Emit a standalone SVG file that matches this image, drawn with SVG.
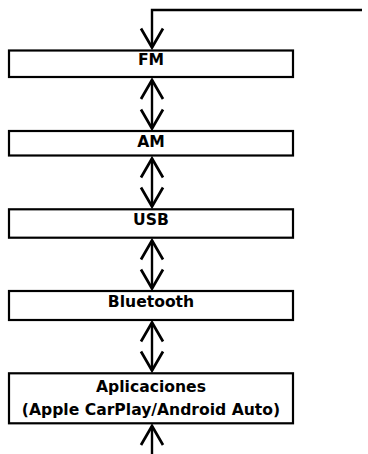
<svg xmlns="http://www.w3.org/2000/svg" width="368" height="454" viewBox="0 0 368 454">
<style>
.box{fill:#fff;stroke:#000;stroke-width:2.2}
.lbl{font-family:"DejaVu Sans",sans-serif;font-weight:bold;font-size:15.6px;fill:#000;text-anchor:middle}
.con{fill:none;stroke:#000;stroke-width:2.4}
</style>
<defs>
<marker id="ah" markerUnits="userSpaceOnUse" viewBox="-22 -13 24 26" refX="0" refY="0" markerWidth="24" markerHeight="26" orient="auto-start-reverse" overflow="visible">
<path d="M-19,-11 L0,0 L-19,11" fill="none" stroke="#000" stroke-width="2.7"/>
</marker>
</defs>
<rect width="368" height="454" fill="#fff"/>
<g id="connectors">
<path class="con" d="M362,10 H152 V47.5" marker-end="url(#ah)"/>
<path class="con" d="M152,80 V128.5" marker-start="url(#ah)" marker-end="url(#ah)"/>
<path class="con" d="M152,158.5 V206.5" marker-start="url(#ah)" marker-end="url(#ah)"/>
<path class="con" d="M152,240.5 V288.5" marker-start="url(#ah)" marker-end="url(#ah)"/>
<path class="con" d="M152,322.5 V370.5" marker-start="url(#ah)" marker-end="url(#ah)"/>
<path class="con" d="M152,426 V454" marker-start="url(#ah)"/>
</g>
<g id="fm"><rect class="box" x="9" y="50.5" width="284" height="26.5"/><text class="lbl" x="151" y="65">FM</text></g>
<g id="am"><rect class="box" x="9" y="131" width="284" height="24.5"/><text class="lbl" x="151" y="146.5">AM</text></g>
<g id="usb"><rect class="box" x="9" y="209.3" width="284" height="28.4"/><text class="lbl" x="151" y="225">USB</text></g>
<g id="bluetooth"><rect class="box" x="9" y="291" width="284" height="29"/><text class="lbl" x="151" y="307">Bluetooth</text></g>
<g id="aplicaciones"><rect class="box" x="9" y="373.3" width="284" height="50"/><text class="lbl" x="151" y="391.5">Aplicaciones</text><text class="lbl" x="151" y="415">(Apple CarPlay/Android Auto)</text></g>
</svg>
